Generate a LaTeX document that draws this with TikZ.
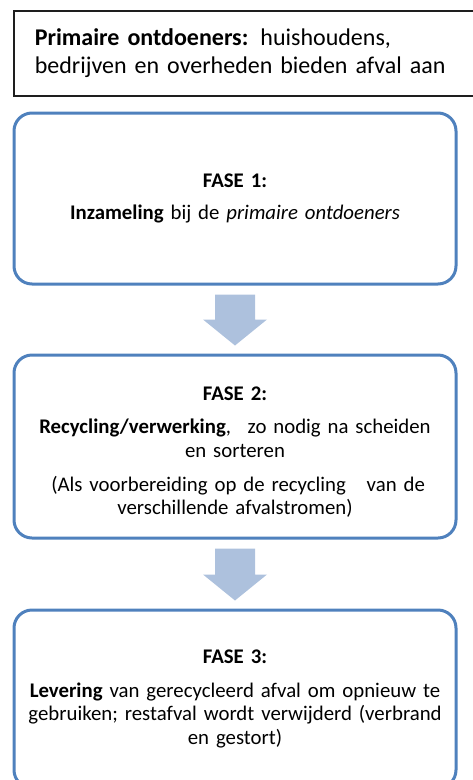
\documentclass[tikz,border=0pt]{standalone}
\usepackage{fontspec}
\setmainfont{Carlito}
\usetikzlibrary{calc}
\definecolor{phaseblue}{RGB}{79,129,189}
\definecolor{arrowblue}{RGB}{173,193,221}
\definecolor{topline}{RGB}{30,30,30}
\newcommand\phasearrow[2]{%
  \fill[arrowblue] let \p1=(#1.south), \p2=(#2.north) in
    (\x1-20,\y1-9) -- (\x1+20,\y1-9) -- (\x1+20,\y2+34) -- (\x1+32,\y2+34)
    -- (\x1,\y2+8) -- (\x1-32,\y2+34) -- (\x1-20,\y2+34) -- cycle;}
\tikzset{
  phasebox/.style={draw=phaseblue, line width=3pt, rounded corners=18pt,
    minimum width=442pt, text width=430pt, align=center, fill=white,
    font=\fontsize{20.8}{23.5}\selectfont},
  topbox/.style={draw=topline, line width=1.5pt, anchor=north west,
    minimum width=470pt, minimum height=85pt, text width=440pt,
    inner xsep=21pt, align=left, font=\fontsize{24}{28.5}\selectfont}
}
\begin{document}
\begin{tikzpicture}[x=1pt,y=-1pt]
\useasboundingbox (0,0) rectangle (473,780);
\clip (0,0) rectangle (473,780);
\node[topbox] (top) at (13,10) {\textbf{Primaire ontdoeners:} huishoudens,\\bedrijven en overheden bieden afval aan};
\node[phasebox, minimum height=171pt] (f1) at (235,198.5)
  {\textbf{FASE 1:}\\[9pt]\textbf{Inzameling} bij de \textit{primaire ontdoeners}};
\node[phasebox, minimum height=183pt] (f2) at (235,446.5)
  {\rule{0pt}{25pt}\textbf{FASE 2:}\\[9pt]\textbf{Recycling/verwerking},\hspace{0.8em}zo nodig na scheiden\\[1pt]en sorteren\\[10pt]
   \hspace{0.3em}(Als voorbereiding op de recycling\hspace{1em}van de\\verschillende afvalstromen)};
\node[phasebox, minimum height=178pt] (f3) at (235,699)
  {\textbf{FASE 3:}\\[10pt]\textbf{Levering} van gerecycleerd afval om opnieuw te\\gebruiken; restafval wordt verwijderd (verbrand\\en gestort)};
\phasearrow{f1}{f2}
\phasearrow{f2}{f3}
\end{tikzpicture}
\end{document}
